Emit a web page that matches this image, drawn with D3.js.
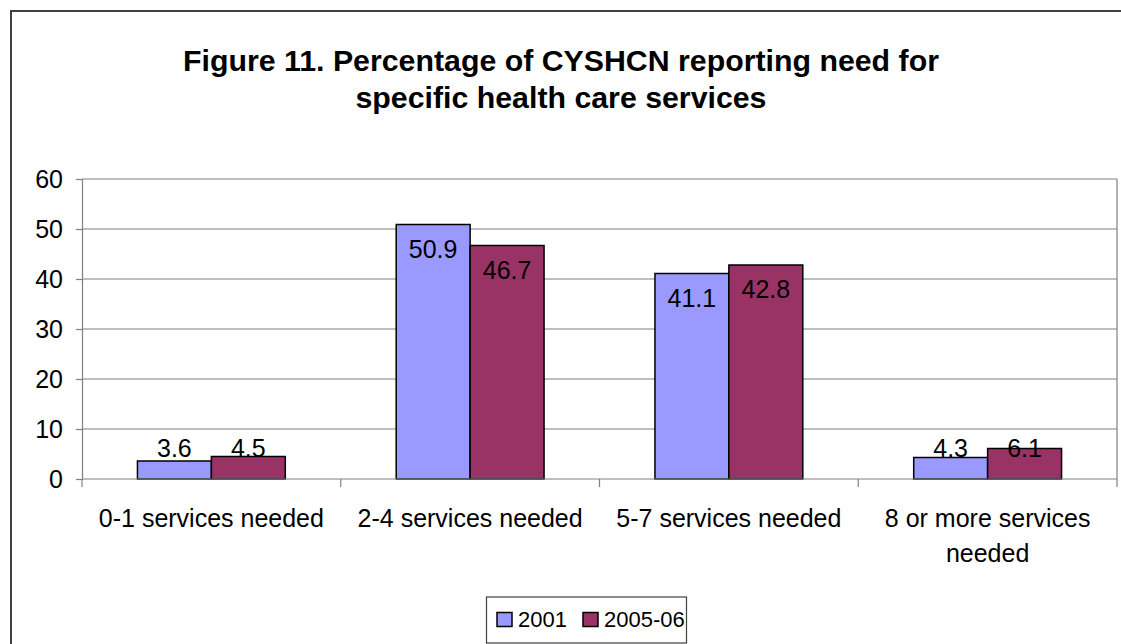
<!DOCTYPE html>
<html>
<head>
<meta charset="utf-8">
<script src="https://cdn.jsdelivr.net/npm/d3@7"></script>
<style>
  html, body { margin: 0; padding: 0; background: #fff; }
  svg { display: block; }
  text { font-family: Arial, "Liberation Sans", sans-serif; fill: #000; }
</style>
</head>
<body>
<svg id="chart" width="1121" height="644"></svg>
<script>
const titleLines = ["Figure 11. Percentage of CYSHCN reporting need for", "specific health care services"];
const categories = ["0-1 services needed", "2-4 services needed", "5-7 services needed", "8 or more services needed"];
const categoryLines = [["0-1 services needed"], ["2-4 services needed"], ["5-7 services needed"], ["8 or more services", "needed"]];
const seriesNames = ["2001", "2005-06"];
const values2001 = [3.6, 50.9, 41.1, 4.3];
const values200506 = [4.5, 46.7, 42.8, 6.1];
const yTicks = [0, 10, 20, 30, 40, 50, 60];
const colors = ["#9999FF", "#993366"];

const seriesValues = [values2001, values200506];
const svg = d3.select("#chart");

// outer chart border (extends past right/bottom edge)
svg.append("rect").attr("x", 11).attr("y", 11).attr("width", 1200).attr("height", 700)
  .attr("fill", "#fff").attr("stroke", "#404040").attr("stroke-width", 2);

// title
svg.append("g").selectAll("text").data(titleLines).join("text")
  .attr("x", 561).attr("y", (d, i) => 71 + i * 37)
  .attr("text-anchor", "middle").attr("font-size", 30.3).attr("font-weight", "bold")
  .text(d => d);

const pLeft = 82, pRight = 1117, pTop = 179, pBottom = 479;
const y = d3.scaleLinear().domain([0, 60]).range([pBottom, pTop]);
const x0 = d3.scaleBand().domain(categories).range([pLeft, pRight]).paddingInner(0).paddingOuter(0);
const x1 = d3.scaleBand().domain(seriesNames).range([0, x0.bandwidth()]).paddingInner(0).paddingOuter(0.75);

// gridlines
svg.append("g").selectAll("line").data(yTicks.filter(t => t > 0)).join("line")
  .attr("x1", pLeft).attr("x2", pRight).attr("y1", d => y(d)).attr("y2", d => y(d))
  .attr("stroke", "#808080").attr("stroke-width", 1.2);
// right border of plot
svg.append("line").attr("x1", pRight).attr("x2", pRight).attr("y1", pTop).attr("y2", pBottom)
  .attr("stroke", "#808080").attr("stroke-width", 1.2);

// y axis
const yAxis = d3.axisLeft(y).tickValues(yTicks).tickSize(6).tickPadding(13).tickFormat(d3.format("d"));
const gy = svg.append("g").attr("transform", `translate(${pLeft},0)`).call(yAxis);
gy.select(".domain").attr("stroke", "#808080").attr("stroke-width", 1.2);
gy.selectAll(".tick line").attr("stroke", "#808080").attr("stroke-width", 1.2);
gy.selectAll(".tick text").attr("font-size", 25).attr("font-family", "Arial, 'Liberation Sans', sans-serif").attr("fill", "#000");

// bars
const groups = svg.append("g").selectAll("g").data(categories).join("g")
  .attr("transform", d => `translate(${x0(d)},0)`);
groups.selectAll("rect").data((c, i) => seriesNames.map((s, j) => ({s, v: seriesValues[j][i], j})))
  .join("rect")
  .attr("x", d => x1(d.s)).attr("width", x1.bandwidth())
  .attr("y", d => y(d.v)).attr("height", d => y(0) - y(d.v))
  .attr("fill", d => colors[d.j]).attr("stroke", "#000").attr("stroke-width", 1.5);
groups.selectAll("text.lbl").data((c, i) => seriesNames.map((s, j) => ({s, v: seriesValues[j][i], j})))
  .join("text").attr("class", "lbl")
  .attr("x", d => x1(d.s) + x1.bandwidth() / 2)
  .attr("y", d => Math.min(y(d.v) + 33, y(0) - 22))
  .attr("text-anchor", "middle").attr("font-size", 25)
  .text(d => d.v.toFixed(1));

// x axis
svg.append("line").attr("x1", pLeft).attr("x2", pRight).attr("y1", pBottom).attr("y2", pBottom)
  .attr("stroke", "#808080").attr("stroke-width", 1.2);
const bounds = categories.map(c => x0(c)).concat([pRight]);
svg.append("g").selectAll("line").data(bounds).join("line")
  .attr("x1", d => d).attr("x2", d => d).attr("y1", pBottom).attr("y2", pBottom + 8)
  .attr("stroke", "#808080").attr("stroke-width", 1.2);
const xl = svg.append("g").selectAll("text").data(categories).join("text")
  .attr("x", d => x0(d) + x0.bandwidth() / 2).attr("y", 527)
  .attr("text-anchor", "middle").attr("font-size", 25);
xl.each(function(d, i) {
  const t = d3.select(this);
  categoryLines[i].forEach((line, k) => {
    t.append("tspan").attr("x", x0(d) + x0.bandwidth() / 2).attr("dy", k === 0 ? 0 : 35).text(line);
  });
});

// legend
const lg = svg.append("g");
lg.append("rect").attr("x", 486.5).attr("y", 597).attr("width", 200).attr("height", 46)
  .attr("fill", "#fff").attr("stroke", "#404040").attr("stroke-width", 1.2);
const legendX = [497, 583];
seriesNames.forEach((s, j) => {
  lg.append("rect").attr("x", legendX[j]).attr("y", 612.5).attr("width", 15).attr("height", 14)
    .attr("fill", colors[j]).attr("stroke", "#000").attr("stroke-width", 1.5);
  lg.append("text").attr("x", legendX[j] + 21).attr("y", 627).attr("font-size", 22).text(s);
});
</script>
</body>
</html>
